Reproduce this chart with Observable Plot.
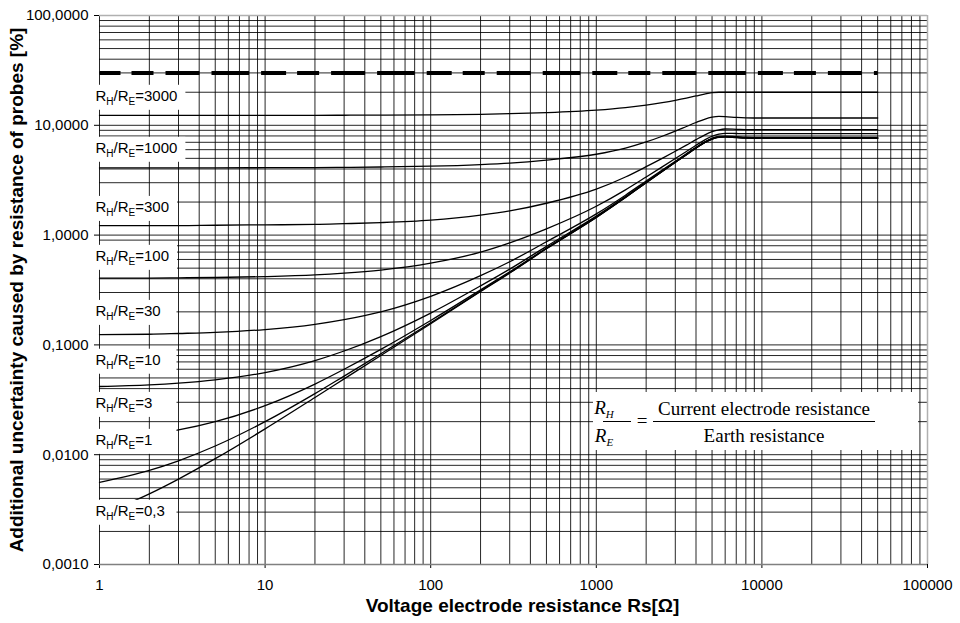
<!DOCTYPE html>
<html>
<head>
<meta charset="utf-8">
<script src="https://cdn.jsdelivr.net/npm/d3@7"></script>
<script src="https://cdn.jsdelivr.net/npm/@observablehq/plot@0.6"></script>
<style>
  html, body { margin: 0; padding: 0; background: #fff; }
  #chart svg { display: block; }
</style>
</head>
<body>
<div id="chart"></div>
<script>
// ---------- data ----------
const xTicks = [1, 10, 100, 1000, 10000, 100000];
const xTickLabels = ["1", "10", "100", "1000", "10000", "100000"];
const yTicks = [0.001, 0.01, 0.1, 1, 10, 100];
const yTickLabels = ["0,0010", "0,0100", "0,1000", "1,0000", "10,0000", "100,0000"];

const xTitle = "Voltage electrode resistance Rs[Ω]";
const yTitle = "Additional uncertainty caused by resistance of probes [%]";

// voltage electrode resistance Rs [Ω]
const rs = [1, 2, 3, 5, 10, 20, 30, 50, 100, 200, 300, 500, 1000, 1500, 2000, 2500, 3000, 3500, 4000, 4500, 5000, 5500, 6000, 7000, 8000, 10000, 20000, 50000];

const ratios = ["3000", "1000", "300", "100", "30", "10", "3", "1", "0,3"];

const u3000 = [12.3, 12.3, 12.3, 12.3, 12.32, 12.33, 12.35, 12.38, 12.45, 12.6, 12.75, 13.05, 13.75, 14.5, 15.3, 16.1, 16.9, 17.7, 18.5, 19.25, 19.8, 20.0, 20.0, 20.0, 20.0, 20.0, 20.0, 20.0];
const u1000 = [4.09, 4.09, 4.1, 4.1, 4.11, 4.12, 4.14, 4.17, 4.24, 4.39, 4.53, 4.82, 5.45, 6.2, 7.05, 7.95, 8.85, 9.75, 10.6, 11.35, 11.85, 12.05, 12.0, 11.8, 11.7, 11.65, 11.65, 11.65];
const u300 = [1.22, 1.22, 1.22, 1.23, 1.24, 1.25, 1.27, 1.30, 1.37, 1.52, 1.66, 1.95, 2.62, 3.38, 4.2, 5.0, 5.8, 6.6, 7.4, 8.15, 8.75, 9.1, 9.25, 9.2, 9.15, 9.15, 9.15, 9.15];
const u100 = [0.405, 0.406, 0.408, 0.411, 0.419, 0.434, 0.45, 0.48, 0.555, 0.70, 0.85, 1.14, 1.83, 2.58, 3.38, 4.18, 4.98, 5.78, 6.58, 7.33, 7.95, 8.3, 8.45, 8.42, 8.4, 8.4, 8.4, 8.4];
const u30 = [0.124, 0.125, 0.127, 0.13, 0.138, 0.154, 0.17, 0.2, 0.277, 0.427, 0.572, 0.87, 1.56, 2.31, 3.11, 3.91, 4.71, 5.51, 6.3, 7.05, 7.62, 7.92, 7.98, 7.88, 7.8, 7.76, 7.75, 7.75];
const u10 = [0.0418, 0.0432, 0.0448, 0.048, 0.056, 0.072, 0.088, 0.119, 0.195, 0.345, 0.49, 0.79, 1.49, 2.24, 3.04, 3.84, 4.64, 5.44, 6.24, 6.99, 7.55, 7.85, 7.9, 7.8, 7.72, 7.68, 7.68, 7.68];
const u3 = [0.0136, 0.0152, 0.0168, 0.02, 0.028, 0.044, 0.06, 0.091, 0.167, 0.317, 0.462, 0.762, 1.46, 2.21, 3.01, 3.81, 4.61, 5.41, 6.21, 6.96, 7.52, 7.82, 7.87, 7.77, 7.7, 7.66, 7.66, 7.66];
const u1 = [0.0056, 0.0072, 0.0088, 0.012, 0.02, 0.036, 0.052, 0.083, 0.159, 0.309, 0.454, 0.754, 1.45, 2.2, 3.0, 3.8, 4.6, 5.4, 6.2, 6.95, 7.5, 7.8, 7.85, 7.75, 7.67, 7.63, 7.63, 7.63];
const u03 = [0.0028, 0.0044, 0.006, 0.0092, 0.0172, 0.0332, 0.049, 0.08, 0.156, 0.306, 0.451, 0.751, 1.45, 2.2, 3.0, 3.8, 4.6, 5.4, 6.2, 6.95, 7.5, 7.78, 7.83, 7.72, 7.64, 7.6, 7.6, 7.6];

const seriesValues = [u3000, u1000, u300, u100, u30, u10, u3, u1, u03];

// label level (in % units) of each "RH/RE=..." tag
const labelLevels = [18.3, 6.15, 1.78, 0.638, 0.201, 0.0722, 0.0292, 0.01345, 0.00304];

// dashed limit line
const limitRs = [1, 50000];
const limitU = [30, 30];

// ---------- tables built from the arrays ----------
const rows = [];
ratios.forEach((r, k) => {
  seriesValues[k].forEach((u, i) => rows.push({ratio: r, rs: rs[i], u}));
});
const limitRows = limitRs.map((r, i) => ({rs: r, u: limitU[i]}));
const labelRows = ratios.map((r, k) => ({ratio: r, rs: rs[0], u: labelLevels[k]}));

const xGrid = d3.scaleLog().domain([xTicks[0], xTicks[xTicks.length - 1]]).ticks();
const yGrid = d3.scaleLog().domain([yTicks[0], yTicks[yTicks.length - 1]]).ticks();

const chart = Plot.plot({
  width: 960,
  height: 623,
  marginLeft: 99,
  marginRight: 33,
  marginTop: 15,
  marginBottom: 59,
  style: {fontFamily: "'Liberation Sans', Arial, sans-serif", fontSize: "15px", color: "#000", background: "#fff"},
  x: {type: "log", domain: [xTicks[0], xTicks[xTicks.length - 1]], ticks: xTicks,
      tickFormat: d => xTickLabels[xTicks.indexOf(d)], tickSize: 4, tickPadding: 11, label: null},
  y: {type: "log", domain: [yTicks[0], yTicks[yTicks.length - 1]], ticks: yTicks,
      tickFormat: d => yTickLabels[yTicks.indexOf(d)], tickSize: 5, tickPadding: 6, label: null},
  marks: [
    Plot.ruleY(yGrid, {stroke: "#000", strokeOpacity: 0.85, strokeWidth: 1}),
    Plot.ruleX(xGrid, {stroke: "#000", strokeOpacity: 0.85, strokeWidth: 1}),
    Plot.ruleY([yTicks[yTicks.length - 1]], {stroke: "#b0b0b0", strokeWidth: 1.5}),
    Plot.ruleY([yTicks[0]], {stroke: "#808080", strokeWidth: 1.5}),
    Plot.ruleX([xTicks[xTicks.length - 1]], {stroke: "#b0b0b0", strokeWidth: 1.5}),
    Plot.line(limitRows, {x: "rs", y: "u", stroke: "#000", strokeWidth: 4,
      strokeDasharray: "22,12,34,12,37.6,12,25,11", strokeDashoffset: 133.6, strokeLinecap: "butt"}),
    Plot.line(rows, {x: "rs", y: "u", z: "ratio", stroke: "#000", strokeWidth: 1.3, curve: "monotone-x"}),
    Plot.text(labelRows, {x: "rs", y: "u", text: d => "R|H|/R|E|=" + d.ratio, textAnchor: "start", dx: -4,
      fill: "#000", fontSize: 15}),
    Plot.text([xTitle], {frameAnchor: "bottom", dy: 47, dx: 9, text: d => d, textAnchor: "middle",
      fontWeight: "bold", fontSize: 19, fill: "#000"}),
    Plot.text([yTitle], {frameAnchor: "left", dx: -83, rotate: -90, text: d => d, textAnchor: "middle",
      fontWeight: "bold", fontSize: 19, fill: "#000"})
  ]
});

document.getElementById("chart").append(chart);

// ---------- post-processing: subscripts, label boxes, formula ----------
const NS = "http://www.w3.org/2000/svg";
const mk = (tag, attrs) => { const e = document.createElementNS(NS, tag); for (const k in attrs) e.setAttribute(k, attrs[k]); return e; };

const labelTexts = [...chart.querySelectorAll("text")].filter(t => t.textContent.includes("|"));
labelTexts.forEach(t => {
  const parts = t.textContent.split("|");
  t.textContent = "";
  parts.forEach((p, i) => {
    const ts = mk("tspan", {});
    ts.textContent = p;
    if (i % 2 === 1) { ts.setAttribute("font-size", "10"); ts.setAttribute("dy", "4"); }
    else if (i > 0) { ts.setAttribute("dy", "-4"); }
    t.append(ts);
  });
});
labelTexts.forEach(t => {
  const b = t.getBBox();
  const r = mk("rect", {x: b.x - 3, y: b.y - 2.5, width: Math.max(b.width + 11, 84), height: b.height + 5, fill: "#fff"});
  const tr = t.getAttribute("transform");
  if (tr) r.setAttribute("transform", tr);
  const parent = t.parentNode;
  parent.insertBefore(r, parent.firstChild);
});

// formula box "RH/RE = Current electrode resistance / Earth resistance"
const xr = chart.scale("x").range, yr = chart.scale("y").range;
const right = Math.max(...xr), bottom = Math.max(...yr);
const bx = right - 334, by = bottom - 172;
const fg = mk("g", {"font-family": "'Liberation Serif', 'Times New Roman', serif", "font-size": 19, fill: "#000"});
fg.append(mk("rect", {x: bx, y: by, width: 325, height: 58, fill: "#fff"}));
const addText = (str, attrs, subStr) => {
  const t = mk("text", attrs);
  const a = mk("tspan", {}); a.textContent = str; t.append(a);
  if (subStr) { const s = mk("tspan", {"font-size": 11, dy: 4}); s.textContent = subStr; t.append(s); }
  fg.append(t);
  return t;
};
addText("R", {x: bx + 11, y: by + 22, "font-style": "italic"}, "H");
addText("R", {x: bx + 11, y: by + 50, "font-style": "italic"}, "E");
fg.append(mk("line", {x1: bx + 10, x2: bx + 38, y1: by + 29.5, y2: by + 29.5, stroke: "#000", "stroke-width": 1}));
addText("=", {x: bx + 49, y: by + 35, "text-anchor": "middle"});
fg.append(mk("line", {x1: bx + 60, x2: bx + 282, y1: by + 29.5, y2: by + 29.5, stroke: "#000", "stroke-width": 1}));
addText("Current electrode resistance", {x: bx + 171, y: by + 23, "text-anchor": "middle"});
addText("Earth resistance", {x: bx + 171, y: by + 50, "text-anchor": "middle"});
chart.append(fg);
</script>
</body>
</html>
